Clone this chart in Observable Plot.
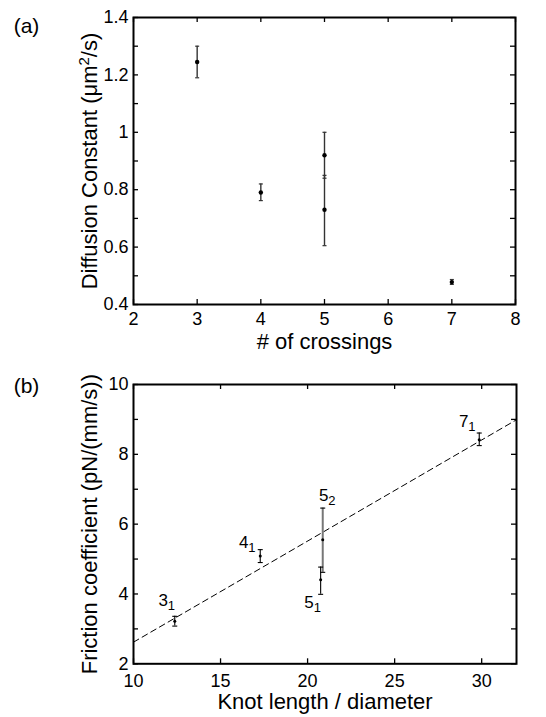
<!DOCTYPE html>
<html><head><meta charset="utf-8">
<script src="https://cdn.jsdelivr.net/npm/d3@7"></script>
<script src="https://cdn.jsdelivr.net/npm/@observablehq/plot@0.6"></script>
<style>
body{margin:0;background:#fff}
#chart{width:546px;height:717px;position:relative;background:#fff}
#chart svg{display:block}
</style>
</head><body><div id="chart"></div>
<script>
// ---- Panel (a) data ----
const crossings = [3, 4, 5, 5, 7];
const diffusion = [1.245, 0.79, 0.92, 0.73, 0.478];
const diffLo    = [1.19, 0.762, 0.84, 0.605, 0.47];
const diffHi    = [1.30, 0.82, 1.0, 0.85, 0.487];
const aXTicks = [2, 3, 4, 5, 6, 7, 8];
const aYLabels = [0.4, 0.6, 0.8, 1.0, 1.2, 1.4];
const aYTicks = [0.4, 0.5, 0.6, 0.7, 0.8, 0.9, 1.0, 1.1, 1.2, 1.3, 1.4];

// ---- Panel (b) data ----
const knots      = ["3_1", "4_1", "5_1", "5_2", "7_1"];
const knotLength = [12.37, 17.28, 20.75, 20.87, 29.86];
const friction   = [3.22, 5.09, 4.41, 5.55, 8.42];
const fricLo     = [3.08, 4.90, 3.99, 4.62, 8.25];
const fricHi     = [3.36, 5.27, 4.77, 6.46, 8.61];
const fitX = [10, 32];
const fitY = [2.62, 8.99];
const bXTicks = [10, 15, 20, 25, 30];
const bYLabels = [2, 4, 6, 8, 10];
const bYTicks = [2, 3, 4, 5, 6, 7, 8, 9, 10];

const FONT = "'Liberation Sans', Arial, Helvetica, sans-serif";
const fmt = d => String(+(+d).toFixed(2));

const tableA = crossings.map((x, i) => ({x, y: diffusion[i], lo: diffLo[i], hi: diffHi[i]}));
const tableB = knots.map((k, i) => ({label: k, x: knotLength[i], y: friction[i], lo: fricLo[i], hi: fricHi[i]}));
const fitLine = fitX.map((x, i) => ({x, y: fitY[i]}));

// horizontal cap symbol for error bars
const hcap = {draw(ctx, size) { const w = Math.sqrt(size / Math.PI); ctx.moveTo(-w, 0); ctx.lineTo(w, 0); }};

// inward ticks on all four sides of the box (rules inset to 5px length)
function frameTicks(xt, yt, w, h) {
  const L = 5, o = {stroke: "black", strokeWidth: 1.3};
  return [
    Plot.ruleX(xt, {...o, x: d => d, insetTop: h - L}),
    Plot.ruleX(xt, {...o, x: d => d, insetBottom: h - L}),
    Plot.ruleY(yt, {...o, y: d => d, insetRight: w - L}),
    Plot.ruleY(yt, {...o, y: d => d, insetLeft: w - L})
  ];
}

const style = {fontFamily: FONT, fontSize: "18px", color: "black", background: "white", overflow: "visible"};

const A = {width: 546, height: 355, mt: 17, mb: 51, ml: 133, mr: 31};
const plotA = Plot.plot({
  width: A.width, height: A.height,
  marginTop: A.mt, marginBottom: A.mb, marginLeft: A.ml, marginRight: A.mr,
  style,
  x: {domain: [2, 8]},
  y: {domain: [0.4, 1.4]},
  marks: [
    Plot.axisX(aXTicks, {tickSize: 0, tickPadding: 8, label: null, tickFormat: fmt, fontSize: 18}),
    Plot.axisY(aYLabels, {tickSize: 0, tickPadding: 5, label: null, tickFormat: fmt, fontSize: 18}),
    Plot.ruleX(tableA, {x: "x", y1: "lo", y2: "hi", stroke: "#333", strokeWidth: 1.4}),
    Plot.dot(tableA, {x: "x", y: "hi", symbol: hcap, r: 2, stroke: "#333", fill: "none", strokeWidth: 1.2}),
    Plot.dot(tableA, {x: "x", y: "lo", symbol: hcap, r: 2, stroke: "#333", fill: "none", strokeWidth: 1.2}),
    Plot.dot(tableA, {x: "x", y: "y", r: 2.2, fill: "black", stroke: "none"}),
    ...frameTicks(aXTicks, aYTicks, A.width - A.ml - A.mr, A.height - A.mt - A.mb),
    Plot.frame({stroke: "black", strokeWidth: 2}),
    Plot.text(["# of crossings"], {text: d => d, frameAnchor: "bottom", dy: 37, lineAnchor: "middle", fontSize: 22}),
    Plot.text(["Diffusion Constant (μm^2/s)"], {text: d => d, frameAnchor: "left", dx: -44, rotate: -90, lineAnchor: "middle", textAnchor: "middle", fontSize: 22}),
    Plot.text(["(a)"], {text: d => d, frameAnchor: "top-left", dx: -107, dy: 8.5, lineAnchor: "middle", textAnchor: "middle", fontSize: 21})
  ]
});

// label placement relative to the error bar end (dx, dy in px)
const labelPlace = {
  "3_1": {end: "hi", dx: -8, dy: -15.5},
  "4_1": {end: "hi", dx: -13, dy: -7.5},
  "5_2": {end: "hi", dx: 4.5, dy: -12.5},
  "5_1": {end: "lo", dx: -8, dy: 8},
  "7_1": {end: "hi", dx: -12, dy: -11.5}
};

const B = {width: 546, height: 362, mt: 29, mb: 53.7, ml: 133, mr: 30};
const plotB = Plot.plot({
  width: B.width, height: B.height,
  marginTop: B.mt, marginBottom: B.mb, marginLeft: B.ml, marginRight: B.mr,
  style,
  x: {domain: [10, 32]},
  y: {domain: [2, 10]},
  marks: [
    Plot.axisX(bXTicks, {tickSize: 0, tickPadding: 10, label: null, tickFormat: fmt, fontSize: 18}),
    Plot.axisY(bYLabels, {tickSize: 0, tickPadding: 5, label: null, tickFormat: fmt, fontSize: 18}),
    Plot.line(fitLine, {x: "x", y: "y", stroke: "black", strokeWidth: 1, strokeDasharray: "6,4"}),
    Plot.ruleX(tableB, {x: "x", y1: "lo", y2: "hi", stroke: d => d.label === "5_2" ? "#777" : "black", strokeWidth: d => d.label === "5_2" ? 2 : 1.1}),
    Plot.dot(tableB, {x: "x", y: "hi", symbol: hcap, r: 2.5, stroke: "black", fill: "none", strokeWidth: 1.1}),
    Plot.dot(tableB, {x: "x", y: "lo", symbol: hcap, r: 2.5, stroke: "black", fill: "none", strokeWidth: 1.1}),
    Plot.dot(tableB, {x: "x", y: "y", r: 1.5, fill: "black", stroke: "none"}),
    ...tableB.map(d => {
      const p = labelPlace[d.label];
      return Plot.text([d], {x: "x", y: p.end, text: "label", dx: p.dx, dy: p.dy, lineAnchor: "middle", textAnchor: "middle", fontSize: 17});
    }),
    ...frameTicks(bXTicks, bYTicks, B.width - B.ml - B.mr, B.height - B.mt - B.mb),
    Plot.frame({stroke: "black", strokeWidth: 2}),
    Plot.text(["Knot length / diameter"], {text: d => d, frameAnchor: "bottom", dy: 38.5, lineAnchor: "middle", fontSize: 22}),
    Plot.text(["Friction coefficient (pN/(mm/s))"], {text: d => d, frameAnchor: "left", dx: -44, rotate: -90, lineAnchor: "middle", textAnchor: "middle", fontSize: 22}),
    Plot.text(["(b)"], {text: d => d, frameAnchor: "top-left", dx: -107, dy: 2, lineAnchor: "middle", textAnchor: "middle", fontSize: 21})
  ]
});

// sub/superscripts
function scripts(svg) {
  const NS = "http://www.w3.org/2000/svg";
  svg.querySelectorAll("text").forEach(t => {
    const s = t.textContent;
    let m;
    if ((m = s.match(/^(\d)_(\d)$/))) {
      t.textContent = "";
      const a = document.createElementNS(NS, "tspan");
      a.textContent = m[1];
      const b = document.createElementNS(NS, "tspan");
      b.textContent = m[2];
      b.setAttribute("font-size", "13");
      b.setAttribute("dy", "4");
      t.append(a, b);
    } else if ((m = s.match(/^(.*)\^(\d)(.*)$/))) {
      t.textContent = "";
      const a = document.createElementNS(NS, "tspan");
      a.textContent = m[1];
      const b = document.createElementNS(NS, "tspan");
      b.textContent = m[2];
      b.setAttribute("font-size", "15");
      b.setAttribute("dy", "-8");
      const c = document.createElementNS(NS, "tspan");
      c.textContent = m[3];
      c.setAttribute("dy", "8");
      t.append(a, b, c);
    }
  });
}
scripts(plotA);
scripts(plotB);

const root = document.getElementById("chart");
root.append(plotA, plotB);
</script>
</body></html>
